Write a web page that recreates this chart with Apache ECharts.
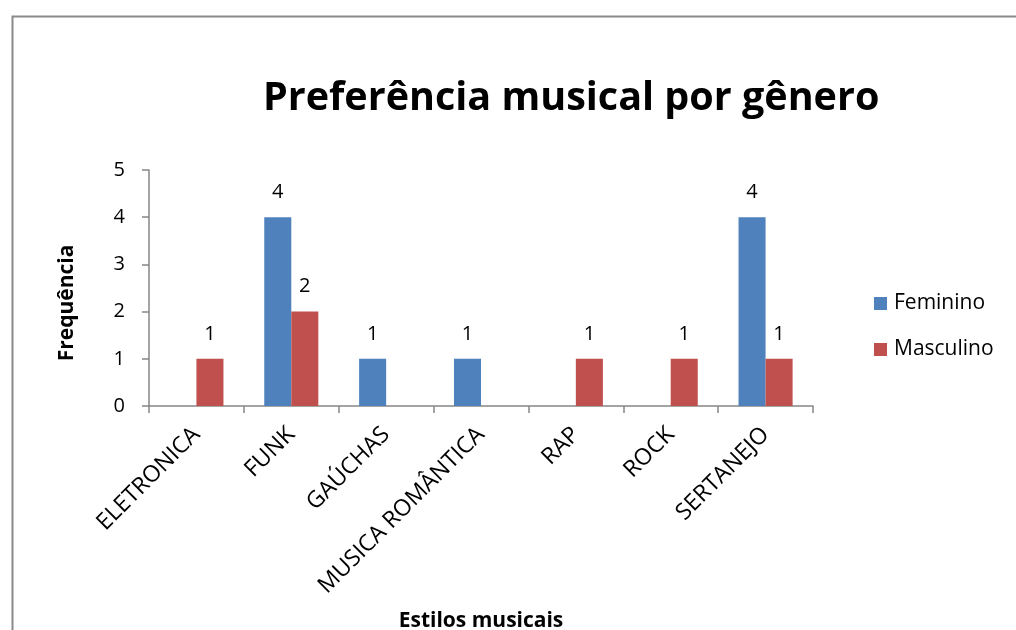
<!DOCTYPE html>
<html>
<head>
<meta charset="utf-8">
<script src="https://cdn.jsdelivr.net/npm/echarts@6/dist/echarts.min.js"></script>
<style>
html,body{margin:0;padding:0;background:#fff;}
#chart{width:1016px;height:630px;}
</style>
</head>
<body>
<div id="chart"></div>
<script>
const categories = ['ELETRONICA', 'FUNK', 'GAÚCHAS', 'MUSICA ROMÂNTICA', 'RAP', 'ROCK', 'SERTANEJO'];
const feminino = [null, 4, 1, 1, null, null, 4];
const masculino = [1, 2, null, null, 1, 1, 1];
const seriesNames = ['Feminino', 'Masculino'];
const yTicks = [0, 1, 2, 3, 4, 5];

const FONT = '"Open Sans", "Noto Sans", sans-serif';
const chart = echarts.init(document.getElementById('chart'), null, {renderer: 'canvas'});
const labelStyle = {show: true, position: 'top', distance: 15, fontSize: 20, color: '#000', fontFamily: FONT};
chart.setOption({
  animation: false,
  backgroundColor: '#fff',
  graphic: [{
    type: 'rect', left: 10, top: 14, silent: true,
    shape: {width: 1100, height: 1000},
    style: {fill: 'none', stroke: '#898989', lineWidth: 2}
  }],
  title: {
    text: 'Preferência musical por gênero',
    left: 258, top: 74,
    textStyle: {fontSize: 39.5, fontWeight: 'bold', color: '#000', fontFamily: FONT}
  },
  legend: {
    orient: 'vertical', left: 869, top: 288,
    itemWidth: 13, itemHeight: 13, itemGap: 25,
    icon: 'rect',
    textStyle: {fontSize: 21, color: '#000', fontFamily: FONT, padding: [0, 0, 0, 2]},
    data: seriesNames
  },
  grid: {left: 149, top: 170, right: 203, bottom: 224, containLabel: false, outerBoundsMode: 'none'},
  xAxis: {
    type: 'category', data: categories,
    name: 'Estilos musicais', nameLocation: 'middle', nameGap: 205,
    nameTextStyle: {fontSize: 21, fontWeight: 'bold', color: '#000', fontFamily: FONT},
    axisLine: {lineStyle: {color: '#868686', width: 1.5}},
    axisTick: {show: true, length: 7, lineStyle: {color: '#868686', width: 1.5}},
    axisLabel: {rotate: 45, fontSize: 23, color: '#000', margin: 25, fontFamily: FONT, interval: 0}
  },
  yAxis: {
    type: 'value', min: 0, max: 5, interval: 1,
    name: 'Frequência', nameLocation: 'middle', nameGap: 71, nameRotate: 90,
    nameTextStyle: {fontSize: 21, fontWeight: 'bold', color: '#000', fontFamily: FONT, padding: [0, 30, 0, 0]},
    axisLine: {show: true, lineStyle: {color: '#868686', width: 1.5}},
    axisTick: {show: true, length: 7, lineStyle: {color: '#868686', width: 1.5}},
    splitLine: {show: false},
    axisLabel: {fontSize: 20, color: '#000', margin: 24, fontFamily: FONT,
      formatter: v => yTicks.includes(v) ? String(v) : ''}
  },
  series: [
    {name: seriesNames[0], type: 'bar', data: feminino, barGap: '0%', barCategoryGap: '43%',
      itemStyle: {color: '#4F81BD'}, label: labelStyle},
    {name: seriesNames[1], type: 'bar', data: masculino, barGap: '0%', barCategoryGap: '43%',
      itemStyle: {color: '#C0504D'}, label: labelStyle}
  ]
});
</script>
</body>
</html>
